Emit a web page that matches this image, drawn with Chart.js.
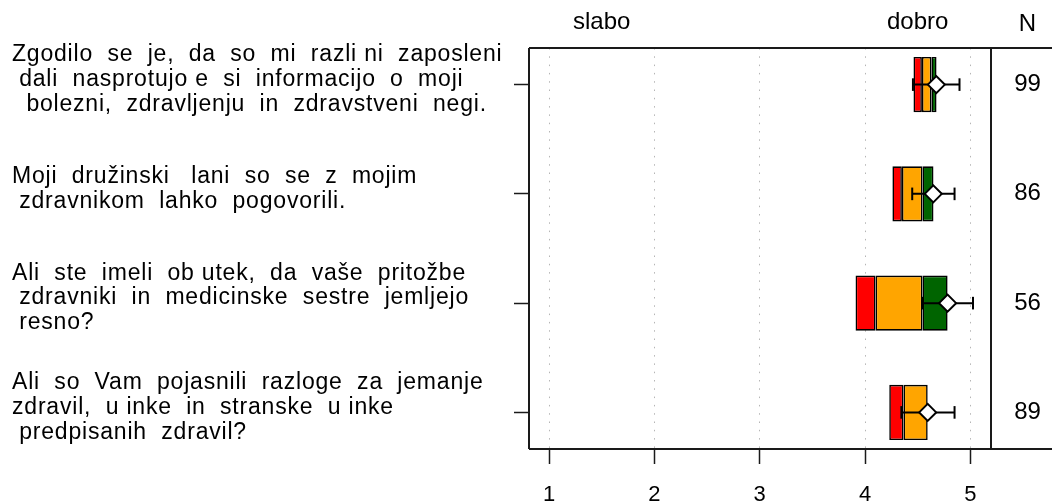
<!DOCTYPE html>
<html><head><meta charset="utf-8">
<script src="https://cdn.jsdelivr.net/npm/chart.js@4"></script>
<style>html,body{margin:0;padding:0;background:#fff}canvas{display:block}</style>
</head><body>
<canvas id="c" width="1052" height="504"></canvas>
<script>
// ---- data ----
const questionLines = [
  ['Zgodilo  se  je,  da  so  mi  razli ni  zaposleni', ' dali  nasprotujo e  si  informacijo  o  moji', '  bolezni,  zdravljenju  in  zdravstveni  negi.'],
  ['Moji  družinski   lani  so  se  z  mojim', ' zdravnikom  lahko  pogovorili.'],
  ['Ali  ste  imeli  ob utek,  da  vaše  pritožbe', ' zdravniki  in  medicinske  sestre  jemljejo', ' resno?'],
  ['Ali  so  Vam  pojasnili  razloge  za  jemanje', 'zdravil,  u inke  in  stranske  u inke', ' predpisanih  zdravil?']
];
const rowIndex = [1, 2, 3, 4];
const nValues = [99, 86, 56, 89];
const boxStart  = [4.46, 4.26, 3.91, 4.23];
const redEnd    = [4.54, 4.35, 4.10, 4.365];
const orangeEnd = [4.63, 4.545, 4.545, 4.595];
const greenEnd  = [4.679, 4.650, 4.784, null];
const means     = [4.677, 4.648, 4.784, 4.595];
const errLow    = [4.455, 4.448, 4.543, 4.345];
const errHigh   = [4.897, 4.850, 5.025, 4.850];
const xTicks = [1, 2, 3, 4, 5];
const topTickValues = [1.5, 4.5];
const topLabels = ['slabo', 'dobro'];
const nHeader = 'N';

const FONT = "'Liberation Sans', Arial, Helvetica, sans-serif";
Chart.defaults.font.family = FONT;
Chart.defaults.color = '#000';

function seg(starts, ends) {
  return rowIndex.map((r, i) => (ends[i] == null ? null : { x: [starts[i], ends[i]], y: r })).filter(d => d);
}
const barCommon = {
  type: 'bar', indexAxis: 'y', grouped: false, xAxisID: 'x', yAxisID: 'y',
  borderColor: '#000', borderWidth: 1.6, borderSkipped: false,
  categoryPercentage: 1, barPercentage: 0.505, order: 5
};
const datasets = [
  Object.assign({}, barCommon, { data: seg(boxStart, redEnd), backgroundColor: '#FF0000' }),
  Object.assign({}, barCommon, { data: seg(redEnd, orangeEnd), backgroundColor: '#FFA500' }),
  Object.assign({}, barCommon, { data: seg(orangeEnd, greenEnd), backgroundColor: '#006400' })
];
rowIndex.forEach((r, i) => {
  datasets.push({
    type: 'line', xAxisID: 'x', yAxisID: 'y', order: 2,
    data: [{ x: errLow[i], y: r }, { x: errHigh[i], y: r }],
    borderColor: '#000', borderWidth: 2, showLine: true,
    pointStyle: 'line', pointRotation: 90, pointRadius: 6.3,
    pointBorderColor: '#000', pointBorderWidth: 2
  });
});
datasets.push({
  type: 'line', xAxisID: 'x', yAxisID: 'y', order: 1, showLine: false,
  data: rowIndex.map((r, i) => ({ x: means[i], y: r })),
  pointStyle: 'rectRot', pointRadius: 8.5,
  pointBackgroundColor: '#fff', pointBorderColor: '#000', pointBorderWidth: 2
});

const framePlugin = {
  id: 'frame',
  afterDraw(chart) {
    const { ctx, chartArea: a, width } = chart;
    ctx.save();
    ctx.strokeStyle = '#1a1a1a';
    ctx.lineWidth = 2;
    ctx.beginPath();
    ctx.moveTo(a.left, a.top); ctx.lineTo(width, a.top);
    ctx.moveTo(a.left, a.bottom); ctx.lineTo(width, a.bottom);
    ctx.moveTo(a.left, a.top); ctx.lineTo(a.left, a.bottom);
    ctx.moveTo(a.right, a.top); ctx.lineTo(a.right, a.bottom);
    ctx.stroke();
    const yScale = chart.scales.y;
    const cx = (a.right + width) / 2 + 6;
    ctx.fillStyle = '#000';
    ctx.font = '24px ' + FONT;
    ctx.textAlign = 'center';
    ctx.textBaseline = 'middle';
    nValues.forEach((n, i) => ctx.fillText(String(n), cx, yScale.getPixelForValue(rowIndex[i])));
    ctx.textBaseline = 'alphabetic';
    ctx.fillText(nHeader, cx, a.top - 17);
    ctx.restore();
  }
};

// widen the left question labels slightly (letter spacing), as in the reference rendering
function widenLabels(s) {
  if (s._wide) return;
  const orig = s.drawLabels.bind(s);
  s.drawLabels = function (area) {
    const c = this.ctx;
    const prev = c.letterSpacing;
    c.letterSpacing = '0.8px';
    orig(area);
    c.letterSpacing = prev || '0px';
  };
  s._wide = true;
}

new Chart(document.getElementById('c'), {
  type: 'bar',
  data: { datasets },
  plugins: [framePlugin],
  options: {
    responsive: false, animation: false, events: [],
    layout: { padding: { left: 12, right: 61, top: 0, bottom: 0 } },
    plugins: { legend: { display: false }, tooltip: { enabled: false } },
    scales: {
      x: {
        type: 'linear', position: 'bottom', min: 0.81, max: 5.196, offset: false,
        afterBuildTicks: s => { s.ticks = xTicks.map(v => ({ value: v })); },
        afterFit: s => { s.height = 55; },
        grid: { offset: false, color: '#b5b5b5', lineWidth: 1, drawTicks: true, tickLength: 15, tickColor: '#1a1a1a', tickWidth: 1.5 },
        border: { display: false, dash: [1.5, 6.8] },
        ticks: { autoSkip: false, maxRotation: 0, minRotation: 0, padding: 18, font: { size: 22 }, color: '#000' }
      },
      x2: {
        type: 'linear', position: 'top', axis: 'x', min: 0.81, max: 5.196, offset: false,
        afterBuildTicks: s => { s.ticks = topTickValues.map(v => ({ value: v })); },
        afterFit: s => { s.height = 48; },
        grid: { display: false, drawTicks: false, offset: false },
        border: { display: false },
        ticks: { autoSkip: false, maxRotation: 0, minRotation: 0, padding: 11, font: { size: 24 }, color: '#000',
          callback: v => topLabels[topTickValues.indexOf(v)] }
      },
      y: {
        type: 'linear', position: 'left', reverse: true, min: 0.665, max: 4.335, offset: false,
        afterBuildTicks: s => { s.ticks = rowIndex.map(v => ({ value: v })); },
        afterFit: s => { s.width = 517; },
        afterUpdate: widenLabels,
        grid: { offset: false, drawOnChartArea: false, drawTicks: true, tickLength: 15, tickColor: '#1a1a1a', tickWidth: 1.5 },
        border: { display: false },
        ticks: { autoSkip: false, crossAlign: 'far', labelOffset: -5, font: { size: 23, lineHeight: 1.08 }, color: '#000',
          callback: v => questionLines[rowIndex.indexOf(v)] || '' }
      }
    }
  }
});
</script>
</body></html>
